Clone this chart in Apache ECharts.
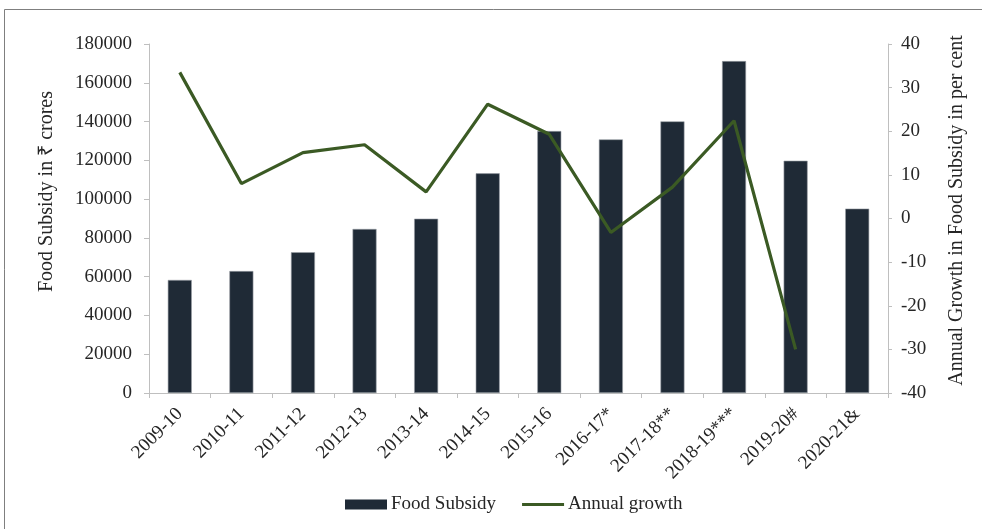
<!DOCTYPE html>
<html><head><meta charset="utf-8">
<script src="https://cdn.jsdelivr.net/npm/echarts@6/dist/echarts.min.js"></script>
<style>html,body{margin:0;padding:0;background:#fff}#c{width:982px;height:529px}</style>
</head><body><div id="c"></div>
<script>
const categories = ['2009-10','2010-11','2011-12','2012-13','2013-14','2014-15','2015-16','2016-17*','2017-18**','2018-19***','2019-20#','2020-21&'];
const foodSubsidy = [58300, 62900, 72600, 84600, 89900, 113300, 135100, 130800, 140100, 171200, 119800, 95100];
const annualGrowth = [33.5, 8.0, 15.1, 16.9, 6.1, 26.2, 19.3, -3.2, 7.2, 22.4, -30.0, null];
const leftTicks = {min: 0, max: 180000, interval: 20000};
const rightTicks = {min: -40, max: 40, interval: 10};

const font = 'Liberation Serif';
const txt = '#262626';
const axisCol = '#bfbfbf';
const fs = 19;
const chart = echarts.init(document.getElementById('c'), null, {renderer: 'canvas'});
chart.setOption({
  animation: false,
  textStyle: {fontFamily: font, color: txt},
  graphic: [{type: 'rect', shape: {x: 4.5, y: 9.5, width: 990, height: 530}, style: {fill: 'none', stroke: '#7f7f7f', lineWidth: 1}, silent: true}],
  grid: {left: 149, right: 94, top: 44, bottom: 136},
  legend: {
    top: 490, left: 340, itemGap: 26,
    textStyle: {fontFamily: font, fontSize: fs, color: txt, padding: [0, 0, 0, -1]},
    data: [
      {name: 'Food Subsidy', icon: 'rect', itemStyle: {borderWidth: 0}},
      {name: 'Annual growth', icon: 'path://M0,0 L0.01,0 L0,0.01 Z M0,3.5 L44,3.5 L44,6.5 L0,6.5 Z M0,10 L0.01,10 L0,9.99 Z', itemStyle: {color: '#3b5a24', borderWidth: 0}}
    ],
    itemWidth: 42, itemHeight: 10
  },
  xAxis: {
    type: 'category', data: categories,
    axisLine: {lineStyle: {color: axisCol, width: 1}},
    axisTick: {show: true, alignWithLabel: false, length: 5, lineStyle: {color: axisCol}},
    axisLabel: {rotate: 45, fontFamily: font, fontSize: fs, color: txt, margin: 18, interval: 0}
  },
  yAxis: [{
    type: 'value', min: leftTicks.min, max: leftTicks.max, interval: leftTicks.interval,
    name: 'Food Subsidy in ₹ crores', nameLocation: 'middle', nameGap: 92, nameRotate: 90,
    nameTextStyle: {fontFamily: font, fontSize: 20, color: txt, padding: [0, 0, 0, 54]},
    axisLine: {show: true, lineStyle: {color: axisCol}},
    axisTick: {show: true, length: 5, lineStyle: {color: axisCol}},
    splitLine: {show: false},
    axisLabel: {fontFamily: font, fontSize: fs, color: txt, margin: 17, formatter: v => String(v)}
  }, {
    type: 'value', min: rightTicks.min, max: rightTicks.max, interval: rightTicks.interval,
    name: 'Annual Growth in Food Subsidy in per cent', nameLocation: 'middle', nameGap: 59, nameRotate: 90,
    nameTextStyle: {fontFamily: font, fontSize: 20, color: txt, padding: [0, 0, 0, 16]},
    axisLine: {show: true, lineStyle: {color: axisCol}},
    axisTick: {show: true, length: 4, lineStyle: {color: axisCol}},
    splitLine: {show: false},
    axisLabel: {fontFamily: font, fontSize: fs, color: txt, margin: 13}
  }],
  series: [{
    name: 'Food Subsidy', type: 'bar', data: foodSubsidy, barWidth: 24,
    itemStyle: {color: '#1f2a36', borderColor: '#9aa0a6', borderWidth: 0.6}
  }, {
    name: 'Annual growth', type: 'line', yAxisIndex: 1, data: annualGrowth,
    symbol: 'none', lineStyle: {color: '#3b5a24', width: 3.2}, itemStyle: {color: '#3b5a24'}
  }]
});
</script></body></html>
